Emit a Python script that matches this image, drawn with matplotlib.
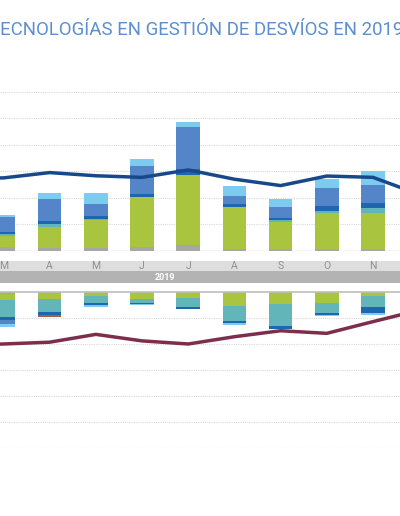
import numpy as np
import matplotlib
matplotlib.use("Agg")
from matplotlib import pyplot as plt

W, H = 400, 516

titulo = "TECNOLOGÍAS EN GESTIÓN DE DESVÍOS EN 2019"
anio = "2019"
months = ['E', 'F', 'M', 'A', 'M', 'J', 'J', 'A', 'S', 'O', 'N', 'D']

bar_idx = np.arange(2, 11)    # M .. N (visible bars)
line_idx = np.arange(1, 12)   # F .. D (line runs past the crop)

# upper stacks, bottom -> top
up_gris = [1.3, 1.1, 0.8, 1.5, 1.9, 0.6, 0.4, 0.6, 0.6]
up_verde = [4.2, 7.9, 10.6, 18.6, 26.7, 15.7, 10.5, 13.6, 13.6]
up_turq = [0.8, 1.0, 0.6, 0.0, 0.0, 0.0, 0.6, 0.8, 1.8]
up_azul_osc = [0.8, 1.2, 1.0, 1.1, 2.3, 1.2, 0.9, 1.8, 2.0]
up_azul = [5.5, 8.1, 4.6, 10.8, 15.7, 3.0, 3.9, 6.7, 6.9]
up_celeste = [0.8, 2.5, 4.2, 2.6, 1.9, 3.8, 3.3, 3.5, 5.0]
up_linea = [27.2, 27.4, 29.4, 28.2, 27.6, 30.4, 26.9, 24.5, 28.1, 27.6, 21.2]

# lower stacks, top -> down
lo_gris = [0.6, 0, 0, 0, 0, 0, 0, 0, 0]
lo_verde = [2.3, 2.7, 1.5, 2.8, 2.4, 5.4, 4.6, 4.1, 1.5]
lo_turq = [6.7, 5.1, 2.6, 1.3, 3.2, 5.7, 8.5, 3.8, 4.1]
lo_azul_osc = [1.3, 1.0, 1.0, 0.5, 0.8, 1.0, 1.0, 1.0, 2.6]
lo_azul = [1.5, 0, 0, 0, 0, 0, 0, 0, 0]
lo_celeste = [1.0, 0, 0.5, 0.3, 0, 0.7, 0, 0.4, 0.8]
lo_marron = [0, 0.9, 0, 0, 0, 0, 0, 0, 0]
lo_linea = [-20.4, -20.0, -19.3, -16.3, -18.8, -20.0, -17.2, -14.9, -15.9, -11.4, -7.0]

c_gris = '#a6a6a6'
c_verde = '#a9c540'
c_turq = '#62b5b8'
c_azul_osc = '#1f66b1'
c_azul = '#5585c9'
c_celeste = '#7ecbf0'
c_marron = '#a0623f'

XLIM = (1.924, 10.585)
BW = 0.51


def box(top, bottom):
    return [0, (H - bottom) / H, 1, (bottom - top) / H]


def grid_style(ax):
    ax.set_xlim(*XLIM)
    for s in ax.spines.values():
        s.set_visible(False)
    ax.set_xticks([])
    ax.set_yticks([])


fig = plt.figure(figsize=(W / 100, H / 100), dpi=100)

fig.text(403 / W, 1 - 30 / H, titulo, ha='right', va='center',
         color='#5b8fd0', fontsize=13.4, family='Roboto')

# upper chart
ax1 = fig.add_axes(box(91.5, 250.5))
grid_style(ax1)
ax1.set_ylim(0, 60)
for v in range(10, 61, 10):
    ax1.axhline(v, color='#d9d9d9', lw=0.8, ls=(0, (1, 1)), zorder=0)
ax1.axhline(0, color='#cfcfcf', lw=1, zorder=0)
bottom = np.zeros(len(bar_idx))
for vals, col in [(up_gris, c_gris), (up_verde, c_verde), (up_turq, c_turq),
                  (up_azul_osc, c_azul_osc), (up_azul, c_azul), (up_celeste, c_celeste)]:
    ax1.bar(bar_idx, vals, BW, bottom=bottom, color=col, zorder=2)
    bottom += np.array(vals)
ax1.plot(line_idx, up_linea, color='#17498a', lw=2.5, zorder=3)

# month band
axm = fig.add_axes(box(261, 283))
grid_style(axm)
axm.set_ylim(0, 22)
axm.axhspan(12, 22, color='#dedede', lw=0)
axm.axhspan(0, 12, color='#b3b3b3', lw=0)
for i in bar_idx:
    axm.text(i, 17, months[i], ha='center', va='center', color='#8f8f8f',
             fontsize=7.5, family='Roboto')
axm.text(5.5, 6, anio, ha='center', va='center', color='white', fontsize=6.5,
         fontweight='bold', family='Roboto')

# lower chart
ax2 = fig.add_axes(box(292, 448))
grid_style(ax2)
ax2.set_ylim(-60, 0)
for v in range(-60, 0, 10):
    ax2.axhline(v, color='#d9d9d9', lw=0.8, ls=(0, (1, 1)), zorder=0)
ax2.axhline(0, color='#bdbdbd', lw=1.2, zorder=4, clip_on=False)
top = np.zeros(len(bar_idx))
for vals, col in [(lo_gris, c_gris), (lo_verde, c_verde), (lo_turq, c_turq),
                  (lo_azul_osc, c_azul_osc), (lo_azul, c_azul), (lo_celeste, c_celeste),
                  (lo_marron, c_marron)]:
    ax2.bar(bar_idx, -np.array(vals), BW, bottom=top, color=col, zorder=2)
    top -= np.array(vals)
ax2.plot(line_idx, lo_linea, color='#7d2e4b', lw=2.5, zorder=3)

fig.savefig('out.png', dpi=100)
